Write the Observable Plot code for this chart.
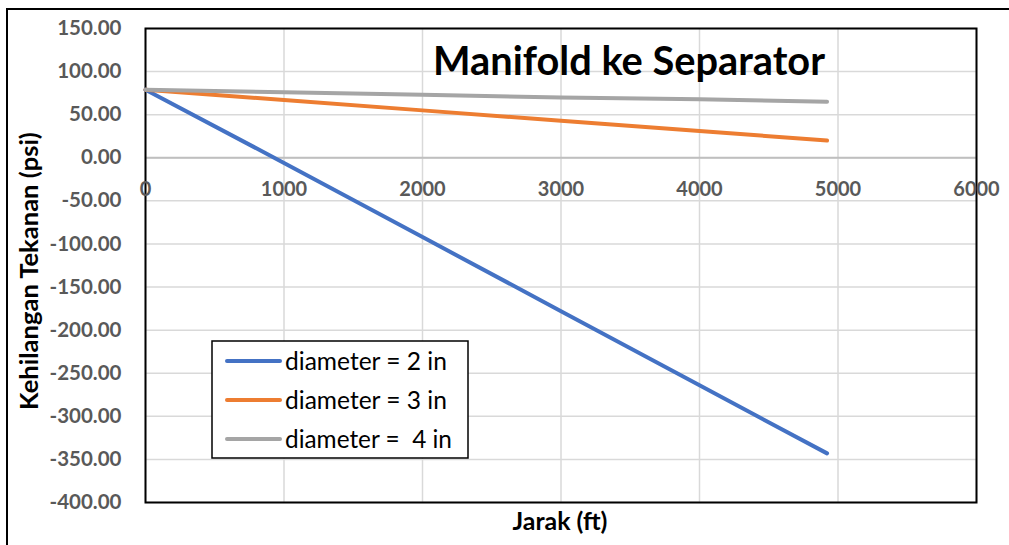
<!DOCTYPE html>
<html>
<head>
<meta charset="utf-8">
<script src="https://cdn.jsdelivr.net/npm/d3@7"></script>
<script src="https://cdn.jsdelivr.net/npm/@observablehq/plot@0.6"></script>
<style>
  html, body { margin: 0; padding: 0; background: #fff; overflow: hidden; }
  #chart { position: relative; width: 1009px; height: 545px; }
</style>
</head>
<body>
<div id="chart"></div>
<script>
// ---- data ----
const distance = [0, 1000, 2000, 3000, 4000, 4921];
const dia2 = [79, -6, -92, -178, -264, -343];
const dia3 = [79, 67, 55, 43, 31, 20];
const dia4 = [79, 76, 73, 70, 68, 65];
const seriesNames = ["diameter = 2 in", "diameter = 3 in", "diameter =  4 in"];
const seriesColors = ["#4472C4", "#ED7D31", "#A5A5A5"];
const xTicks = [0, 1000, 2000, 3000, 4000, 5000, 6000];
const yTicks = [150, 100, 50, 0, -50, -100, -150, -200, -250, -300, -350, -400];
const titleText = "Manifold ke Separator";
const xLabel = "Jarak (ft)";
const yLabel = "Kehilangan Tekanan (psi)";

const seriesValues = [dia2, dia3, dia4];
const rows = [];
seriesNames.forEach((name, i) => {
  distance.forEach((x, j) => rows.push({series: name, x, y: seriesValues[i][j]}));
});

const FONT = "Lato, 'Open Sans', sans-serif";

const plot = Plot.plot({
  width: 1009,
  height: 545,
  marginLeft: 145,
  marginRight: 33,
  marginTop: 28,
  marginBottom: 43,
  style: {fontFamily: FONT, background: "transparent", overflow: "visible"},
  x: {domain: [0, 6000], axis: null},
  y: {domain: [-400, 150]},
  color: {domain: seriesNames, range: seriesColors},
  marks: [
    Plot.gridX(xTicks, {stroke: "#d9d9d9", strokeOpacity: 1, strokeWidth: 1.5}),
    Plot.gridY(yTicks, {stroke: "#d9d9d9", strokeOpacity: 1, strokeWidth: 1.5}),
    Plot.ruleY([0], {stroke: "#bfbfbf", strokeWidth: 2}),
    Plot.frame({stroke: "#000", strokeWidth: 2}),
    Plot.axisY(yTicks, {
      tickSize: 0, tickPadding: 24, tickFormat: d => d.toFixed(2),
      fontSize: 20.5, fontWeight: "bold", fill: "#595959", label: null
    }),
    Plot.text(xTicks, {
      x: d => d, y: 0, dy: 32, text: d => String(d),
      fontSize: 20, fontWeight: "bold", fill: "#595959"
    }),
    Plot.line(rows, {x: "x", y: "y", z: "series", stroke: "series", strokeWidth: 4, strokeLinecap: "round"})
  ]
});

document.getElementById("chart").appendChild(plot);

const svg = d3.select(plot);

// outer chart border
svg.append("rect")
  .attr("x", 7).attr("y", 9).attr("width", 1100).attr("height", 600)
  .attr("fill", "none").attr("stroke", "#000").attr("stroke-width", 2);

function fitText(sel, targetWidth, size) {
  sel.attr("font-size", size);
  const w = sel.node().getComputedTextLength();
  if (w > 0) sel.attr("font-size", size * targetWidth / w);
  return sel;
}

// title
const t = svg.append("text")
  .attr("x", 433).attr("y", 75).attr("text-anchor", "start")
  .attr("font-family", FONT).attr("font-weight", "bold").attr("fill", "#000")
  .text(titleText);
fitText(t, 392, 36);

// x label
const xl = svg.append("text")
  .attr("x", 560).attr("y", 530).attr("text-anchor", "middle")
  .attr("font-family", FONT).attr("font-weight", "bold").attr("fill", "#000")
  .text(xLabel);
fitText(xl, 95, 20);

// y label
const yl = svg.append("text")
  .attr("transform", "translate(38,271) rotate(-90)")
  .attr("text-anchor", "middle")
  .attr("font-family", FONT).attr("font-weight", "bold").attr("fill", "#000")
  .text(yLabel);
fitText(yl, 278, 20);

// legend
const lg = svg.append("g");
lg.append("rect")
  .attr("x", 212).attr("y", 341).attr("width", 256).attr("height", 117)
  .attr("fill", "#fff").attr("stroke", "#000").attr("stroke-width", 1.5);
const rowY = [361, 400, 439];
seriesNames.forEach((name, i) => {
  lg.append("line")
    .attr("x1", 227).attr("x2", 280).attr("y1", rowY[i]).attr("y2", rowY[i])
    .attr("stroke", seriesColors[i]).attr("stroke-width", 4).attr("stroke-linecap", "round");
  const lt = lg.append("text")
    .attr("x", 285).attr("y", rowY[i]).attr("dy", "0.35em").attr("text-anchor", "start")
    .attr("font-family", FONT).attr("fill", "#000")
    .style("white-space", "pre")
    .text(name);
  fitText(lt, i === 2 ? 167 : 162, 20);
});
</script>
</body>
</html>
